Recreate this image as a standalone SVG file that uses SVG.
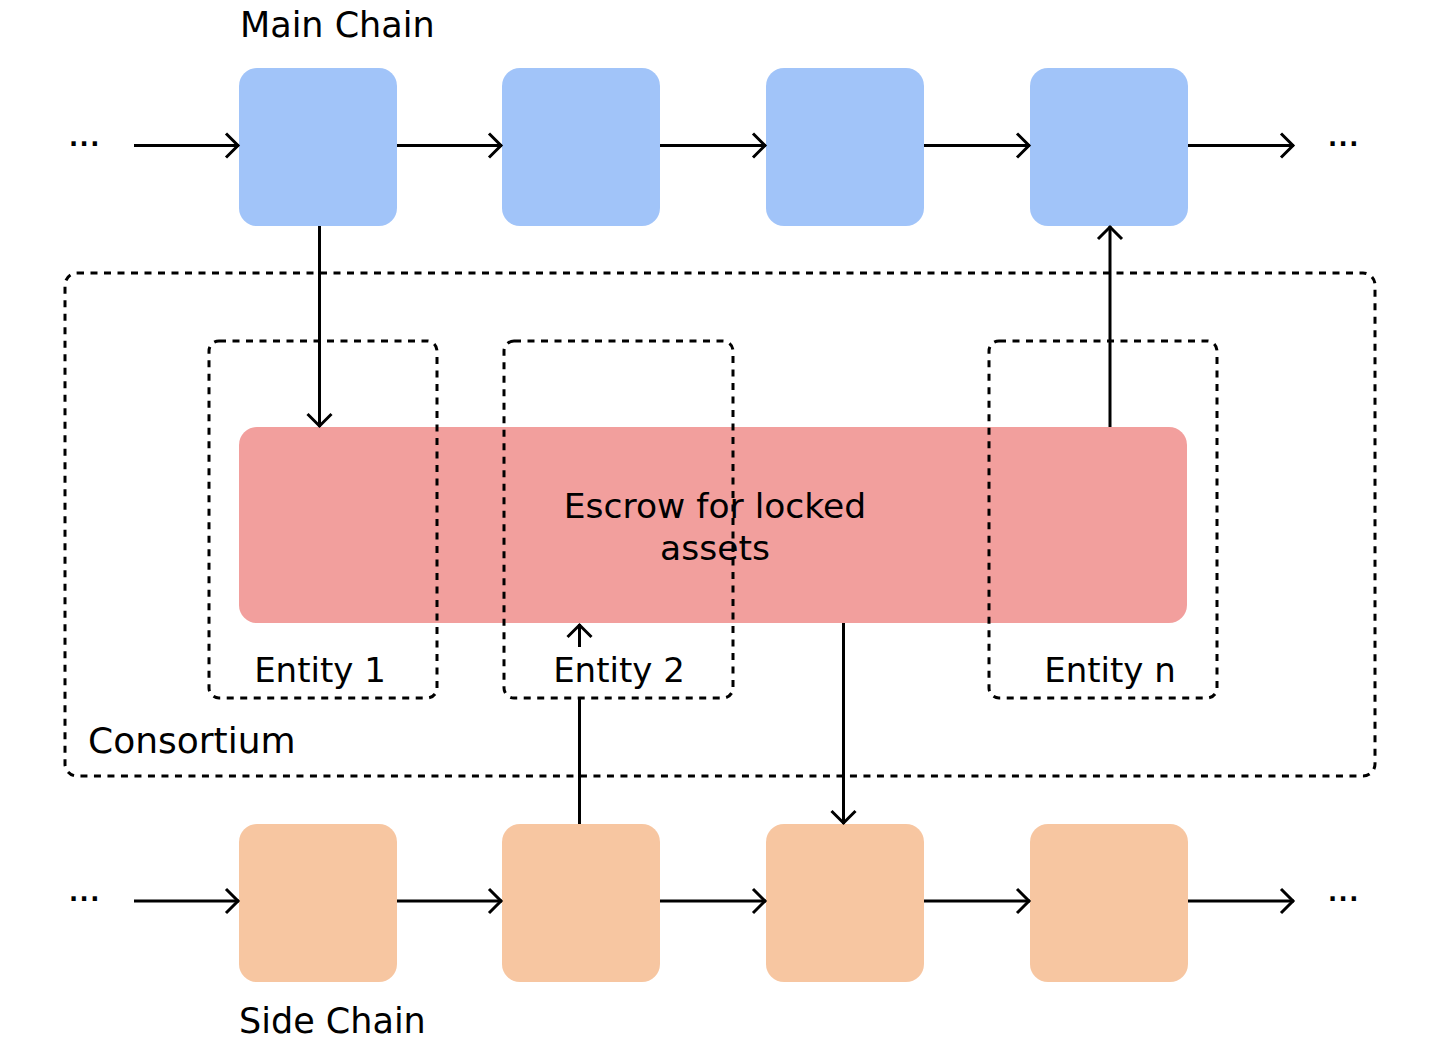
<svg xmlns="http://www.w3.org/2000/svg" width="1434" height="1048" viewBox="0 0 1434 1048">
  <style>
    .t { font-family: "DejaVu Sans", "Liberation Sans", sans-serif; font-size: 34px; fill: #000; }
    .lbl { font-size: 35px; }
    .dots { font-size: 24px; font-weight: bold; letter-spacing: 1.5px; }
    .main { fill: #A1C4F9; }
    .side { fill: #F7C6A1; }
    .esc { fill: #F29F9D; }
    .dash { fill: none; stroke: #000; stroke-width: 3; stroke-dasharray: 7 6.5; }
    .conn { fill: none; stroke: #000; stroke-width: 3; marker-end: url(#arr); }
  </style>
  <defs>
    <marker id="arr" markerUnits="userSpaceOnUse" markerWidth="30" markerHeight="30" viewBox="-20 -15 30 30" refX="1" refY="0" orient="auto" overflow="visible">
      <path d="M-12,-12 L0,0 L-12,12" fill="none" stroke="#000" stroke-width="3"/>
    </marker>
  </defs>
  <rect width="1434" height="1048" fill="#fff"/>

  <g id="consortium">
    <rect class="dash" x="65" y="273" width="1310" height="503" rx="12"/>
    <text class="t lbl" x="88" y="753" style="font-size:36px">Consortium</text>
  </g>

  <g id="main-chain-label"><text class="t lbl" x="240" y="37">Main Chain</text></g>
  <g id="side-chain-label"><text class="t lbl" x="239" y="1033">Side Chain</text></g>

  <g id="main-dots-left"><text class="t dots" x="69" y="146">...</text></g>
  <g id="main-dots-right"><text class="t dots" x="1328" y="146">...</text></g>
  <g id="side-dots-left"><text class="t dots" x="69" y="901">...</text></g>
  <g id="side-dots-right"><text class="t dots" x="1328" y="901">...</text></g>

  <g id="main1"><rect class="main" x="239" y="68" width="158" height="158" rx="18"/></g>
  <g id="main2"><rect class="main" x="502" y="68" width="158" height="158" rx="18"/></g>
  <g id="main3"><rect class="main" x="766" y="68" width="158" height="158" rx="18"/></g>
  <g id="main4"><rect class="main" x="1030" y="68" width="158" height="158" rx="18"/></g>

  <g id="side1"><rect class="side" x="239" y="824" width="158" height="158" rx="18"/></g>
  <g id="side2"><rect class="side" x="502" y="824" width="158" height="158" rx="18"/></g>
  <g id="side3"><rect class="side" x="766" y="824" width="158" height="158" rx="18"/></g>
  <g id="side4"><rect class="side" x="1030" y="824" width="158" height="158" rx="18"/></g>

  <g id="escrow">
    <rect class="esc" x="239" y="427" width="948" height="196" rx="18"/>
    <text class="t" x="715" y="518" text-anchor="middle" style="font-size:34.5px">Escrow for locked</text>
    <text class="t" x="715" y="560" text-anchor="middle" style="font-size:34.5px">assets</text>
  </g>

  <g id="entity1">
    <rect class="dash" x="209" y="341" width="228" height="357" rx="10"/>
    <text class="t" x="320" y="682" text-anchor="middle">Entity 1</text>
  </g>
  <g id="entity2">
    <rect class="dash" x="504" y="341" width="229" height="357" rx="10"/>
    <text class="t" x="619" y="682" text-anchor="middle">Entity 2</text>
  </g>
  <g id="entityn">
    <rect class="dash" x="989" y="341" width="228" height="357" rx="10"/>
    <text class="t" x="1110" y="682" text-anchor="middle">Entity n</text>
  </g>

  <g id="connectors">
    <path class="conn" d="M134,145.5 H239"/>
    <path class="conn" d="M397,145.5 H502"/>
    <path class="conn" d="M660,145.5 H766"/>
    <path class="conn" d="M924,145.5 H1030"/>
    <path class="conn" d="M1188,145.5 H1294"/>

    <path class="conn" d="M134,901 H239"/>
    <path class="conn" d="M397,901 H502"/>
    <path class="conn" d="M660,901 H766"/>
    <path class="conn" d="M924,901 H1030"/>
    <path class="conn" d="M1188,901 H1294"/>

    <path class="conn" d="M319.5,226 V427"/>
    <path class="conn" d="M1110,427 V226"/>
    <path class="conn" d="M579.5,824 V699 M579.5,647 V624"/>
    <path class="conn" d="M843.5,623 V824"/>
  </g>
</svg>
